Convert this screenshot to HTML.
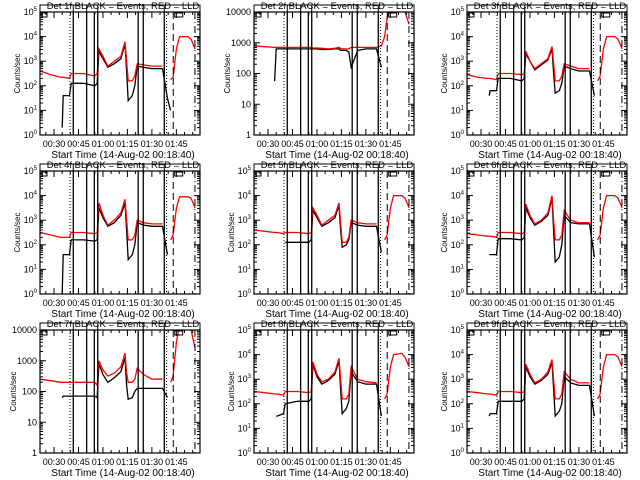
<!DOCTYPE html>
<html><head><meta charset="utf-8"><style>
html,body{margin:0;padding:0;background:#fff;}
svg{display:block;font-family:"Liberation Sans",sans-serif;}
</style></head><body>
<svg id="chart" width="640" height="480" viewBox="0 0 640 480" xmlns="http://www.w3.org/2000/svg">
<rect width="640" height="480" fill="#fff"/>
</svg>
<script>
// shared time grid (minutes after 00:00)
const times = [21.5,28,34,35,35.6,39.5,40.5,48,55,56.5,57.5,60,63,67,71,73.5,74.5,75.5,78,79.5,81,85,90,96.5,99.5,101.5,103,105,107,112,114,116.5];
const xTickLabels = ["00:30","00:45","01:00","01:15","01:30","01:45"];
const xTickMinutes = [30,45,60,75,90,105];
const lineTimes = [39.8,41.8,50.0,54.7,56.8,81.6,84.7,97.6,99.0,103.1,116.4];
const lineStyles = ["dot","solid","solid","solid","solid","solid","solid","solid","dot","dash","dashdot"];
const detNames = ["1f","2f","3f","4f","5f","6f","7f","8f","9f"];
const yMaxDecade = [5,4,5,5,5,5,4,5,5];
// log10 counts/sec per panel
const red1 = [2.6,2.45,2.35,2.35,2.35,2.3,2.5,2.5,2.4,2.5,3.5,3.2,2.8,3.0,3.2,3.8,3.0,2.2,2.2,2.4,2.9,2.85,2.8,2.8,null,2.25,2.35,3.5,4.0,4.0,3.9,3.5];
const blk1 = [null,null,null,0.3,1.6,1.6,2.1,2.1,2.0,2.1,3.4,3.1,2.75,2.9,3.1,3.7,2.6,1.4,1.6,2.0,2.8,2.75,2.7,2.7,1.5,1.0,null,null,null,null,null,null];
const red2 = [2.9,2.87,2.85,2.85,2.85,2.85,2.85,2.85,2.85,2.85,2.83,2.83,2.82,2.8,2.82,2.85,2.82,2.8,2.8,2.8,2.85,2.85,2.85,2.85,2.9,3.2,3.8,4.3,4.3,4.3,4.0,3.6];
const blk2 = [null,null,1.75,2.8,2.8,2.8,2.8,2.8,2.8,2.8,2.8,2.8,2.78,2.78,2.8,2.8,2.75,2.75,2.75,2.7,2.2,2.75,2.8,2.8,2.2,null,null,null,null,null,null,null];
const red3 = [2.45,2.35,2.3,2.3,2.3,2.25,2.5,2.5,2.45,2.5,3.4,3.0,2.7,2.9,3.1,3.6,2.9,2.2,2.2,2.4,2.9,2.8,2.7,2.7,null,2.2,2.4,3.5,4.0,4.0,3.9,3.5];
const blk3 = [null,null,null,1.6,1.8,1.8,2.3,2.3,2.2,2.3,3.3,3.0,2.65,2.85,3.05,3.5,2.5,1.7,1.8,2.1,2.8,2.7,2.6,2.6,1.6,null,null,null,null,null,null,null];
const red4 = [2.5,2.4,2.3,2.3,2.3,2.3,2.5,2.5,2.45,2.5,3.7,3.2,2.8,3.0,3.3,3.85,3.0,2.2,2.2,2.4,3.0,2.9,2.85,2.85,null,2.2,2.4,3.5,3.95,3.95,3.9,3.5];
const blk4 = [null,null,null,0,1.6,1.6,2.2,2.2,2.15,2.2,3.5,3.1,2.75,2.9,3.2,3.7,2.6,1.4,1.6,2.0,2.9,2.8,2.75,2.75,1.6,null,null,null,null,null,null,null];
const red5 = [2.6,2.55,2.5,2.5,2.5,2.45,2.5,2.5,2.45,2.5,3.5,3.2,2.8,3.0,3.2,3.7,2.9,2.1,2.1,2.3,3.0,2.9,2.85,2.85,null,2.2,2.4,3.5,4.0,4.0,3.9,3.5];
const blk5 = [null,null,null,null,null,null,2.1,2.1,2.1,2.2,3.4,3.1,2.75,2.9,3.1,3.6,2.6,1.9,2.0,2.2,2.9,2.8,2.75,2.75,1.7,null,null,null,null,null,null,null];
const red6 = [2.45,2.4,2.35,2.35,2.35,2.3,2.5,2.5,2.45,2.5,3.65,3.2,2.85,3.0,3.3,4.0,3.0,2.2,2.2,2.4,3.4,3.0,2.9,2.9,null,2.2,2.4,3.5,4.0,4.0,3.9,3.5];
const blk6 = [null,null,null,1.6,1.6,1.6,2.25,2.25,2.2,2.3,3.5,3.1,2.8,2.95,3.2,3.9,2.6,1.3,1.5,2.0,3.2,2.9,2.85,2.85,1.5,null,null,null,null,null,null,null];
const red7 = [2.4,2.35,2.3,2.3,2.3,2.3,2.3,2.3,2.3,2.2,3.0,2.7,2.5,2.6,2.8,3.25,2.6,2.3,2.3,2.4,2.75,2.55,2.4,2.4,null,2.3,2.5,3.6,4.2,4.2,4.0,3.4];
const blk7 = [null,null,null,1.8,1.85,1.85,1.85,1.85,1.85,1.8,2.9,2.55,2.3,2.45,2.65,3.1,2.2,1.75,1.8,2.0,2.1,2.1,2.1,2.1,1.8,null,null,null,null,null,null,null];
const red8 = [2.5,2.45,2.4,2.4,2.4,2.35,2.5,2.5,2.45,2.5,3.7,3.2,2.9,3.0,3.3,3.85,3.0,2.2,2.2,2.4,3.5,3.0,2.9,2.85,null,2.2,2.4,3.5,4.0,4.05,3.9,3.5];
const blk8 = [null,null,null,1.5,1.5,1.6,2.0,2.1,2.1,2.2,3.6,3.1,2.8,2.95,3.2,3.75,2.6,1.6,1.8,2.1,3.3,2.9,2.8,2.8,1.5,null,null,null,null,null,null,null];
const red9 = [2.5,2.45,2.4,2.4,2.4,2.35,2.5,2.5,2.45,2.5,3.6,3.2,2.85,3.0,3.3,3.8,3.0,2.2,2.2,2.4,3.3,3.0,2.85,2.85,null,2.2,2.4,3.5,4.0,4.0,3.9,3.5];
const blk9 = [null,null,null,1.5,1.6,1.6,2.1,2.1,2.1,2.2,3.5,3.1,2.8,2.95,3.2,3.7,2.6,1.5,1.7,2.0,3.1,2.85,2.75,2.75,1.5,null,null,null,null,null,null,null];
const redSeries = [red1,red2,red3,red4,red5,red6,red7,red8,red9];
const blkSeries = [blk1,blk2,blk3,blk4,blk5,blk6,blk7,blk8,blk9];

const NS = "http://www.w3.org/2000/svg";
const svg = document.getElementById("chart");
const colLeft = [40,254,467], rowTop = [12,171,330], PW = 160, PH = 123;
const T0 = 21.4, T1 = 119.5;
function mk(tag, attrs, parent){const e=document.createElementNS(NS,tag);for(const k in attrs)e.setAttribute(k,attrs[k]);(parent||svg).appendChild(e);return e;}

for(let p=0;p<9;p++){
  const L = colLeft[p%3], T = rowTop[Math.floor(p/3)], B = T+PH, R = L+PW;
  const ymax = yMaxDecade[p];
  const xs = t => L + (t-T0)/(T1-T0)*PW;
  const ys = v => B - v/ymax*PH;
  const g = mk("g",{});
  
  
  mk("clipPath",{id:"c"+p},g); mk("rect",{x:L,y:T,width:PW,height:PH},g.lastChild);
  function drawSeries(arr,color,name){
    let d="", pen=false;
    for(let i=0;i<times.length;i++){
      const v=arr[i];
      if(v===null){pen=false;continue;}
      d += (pen?"L":"M")+xs(times[i]).toFixed(1)+" "+ys(v).toFixed(1)+" ";
      pen=true;
    }
    const path = mk("path",{d:d,fill:"none",stroke:color,"stroke-width":1.3,"clip-path":"url(#c"+p+")"},g);
    
    
  }
  drawSeries(blkSeries[p],"#000","events-line");
  drawSeries(redSeries[p],"#f00","lld-line");
  for(let i=0;i<lineTimes.length;i++){
    const x = xs(lineTimes[i]), st = lineStyles[i];
    const da = st==="dot"?"1,2":st==="dash"?"7,4":st==="dashdot"?"7,3,1,3":"none";
    const ln = mk("line",{x1:x,x2:x,y1:T,y2:B,stroke:"#000","stroke-width":st==="solid"?1.3:1,"stroke-dasharray":da},g);
    
    
    if(st==="solid" && (i===1||i===2||i===4||i===6||i===7)) mk("line",{x1:x,x2:x,y1:T-7,y2:T,stroke:"#000","stroke-width":1},g);
  }
  mk("polyline",{points:`${L},${T} ${L},${T-7} ${R},${T-7} ${R},${T}`,fill:"none",stroke:"#000","stroke-width":1},g);
  mk("rect",{x:L+2,y:T+1,width:5,height:4,fill:"none",stroke:"#000","stroke-width":1},g);
  mk("rect",{x:xs(104),y:T+1,width:8,height:4,fill:"none",stroke:"#000","stroke-width":1},g);
  const box = mk("rect",{x:L,y:T,width:PW,height:PH,fill:"none",stroke:"#000","stroke-width":1.2},g);
  
  
  for(let k=0;k<=ymax;k++){
    const y = ys(k);
    mk("line",{x1:L,x2:L+6,y1:y,y2:y,stroke:"#000"},g);
    mk("line",{x1:R-6,x2:R,y1:y,y2:y,stroke:"#000"},g);
    if(k<ymax) for(let m=2;m<10;m++){const yy=ys(k+Math.log10(m));
      mk("line",{x1:L,x2:L+3,y1:yy,y2:yy,stroke:"#000"},g);mk("line",{x1:R-3,x2:R,y1:yy,y2:yy,stroke:"#000"},g);}
    const tx = mk("text",{x:L-3,y:y+3,"font-size":9,"text-anchor":"end"},g);
    
    
    if(ymax===4){ tx.textContent = String(Math.pow(10,k)); }
    else { const a=document.createElementNS(NS,"tspan");a.textContent="10";tx.appendChild(a);
      const b=document.createElementNS(NS,"tspan");b.setAttribute("dy","-4");b.setAttribute("font-size","6");b.textContent=String(k);tx.appendChild(b);}
  }
  for(let t=25;t<=115;t+=5){const x=xs(t),maj=(t%15===0);
    mk("line",{x1:x,x2:x,y1:B-(maj?6:3),y2:B,stroke:"#000"},g);
    mk("line",{x1:x,x2:x,y1:T,y2:T+(maj?6:3),stroke:"#000"},g);}
  for(let i=0;i<xTickLabels.length;i++){
    const tx = mk("text",{x:xs(xTickMinutes[i]),y:B+12,"font-size":9,"text-anchor":"middle"},g);
    
    
    tx.textContent = xTickLabels[i];
  }
  const xl = mk("text",{x:L+PW/2+3,y:B+23,"font-size":10,"text-anchor":"middle"},g);
  
  
  xl.textContent = "Start Time (14-Aug-02 00:18:40)";
  const yl = mk("text",{x:0,y:0,"font-size":8,"text-anchor":"middle",transform:`translate(${L-(ymax===4?24:20)},${T+PH/2}) rotate(-90)`},g);
  
  
  yl.textContent = "Counts/sec";
  const tt = mk("text",{x:L+PW/2+3,y:T-3,"font-size":9.5,"text-anchor":"middle"},g);
  
  
  tt.textContent = "Det "+detNames[p]+" BLACK = Events, RED = LLD";
}
</script>
</body></html>
